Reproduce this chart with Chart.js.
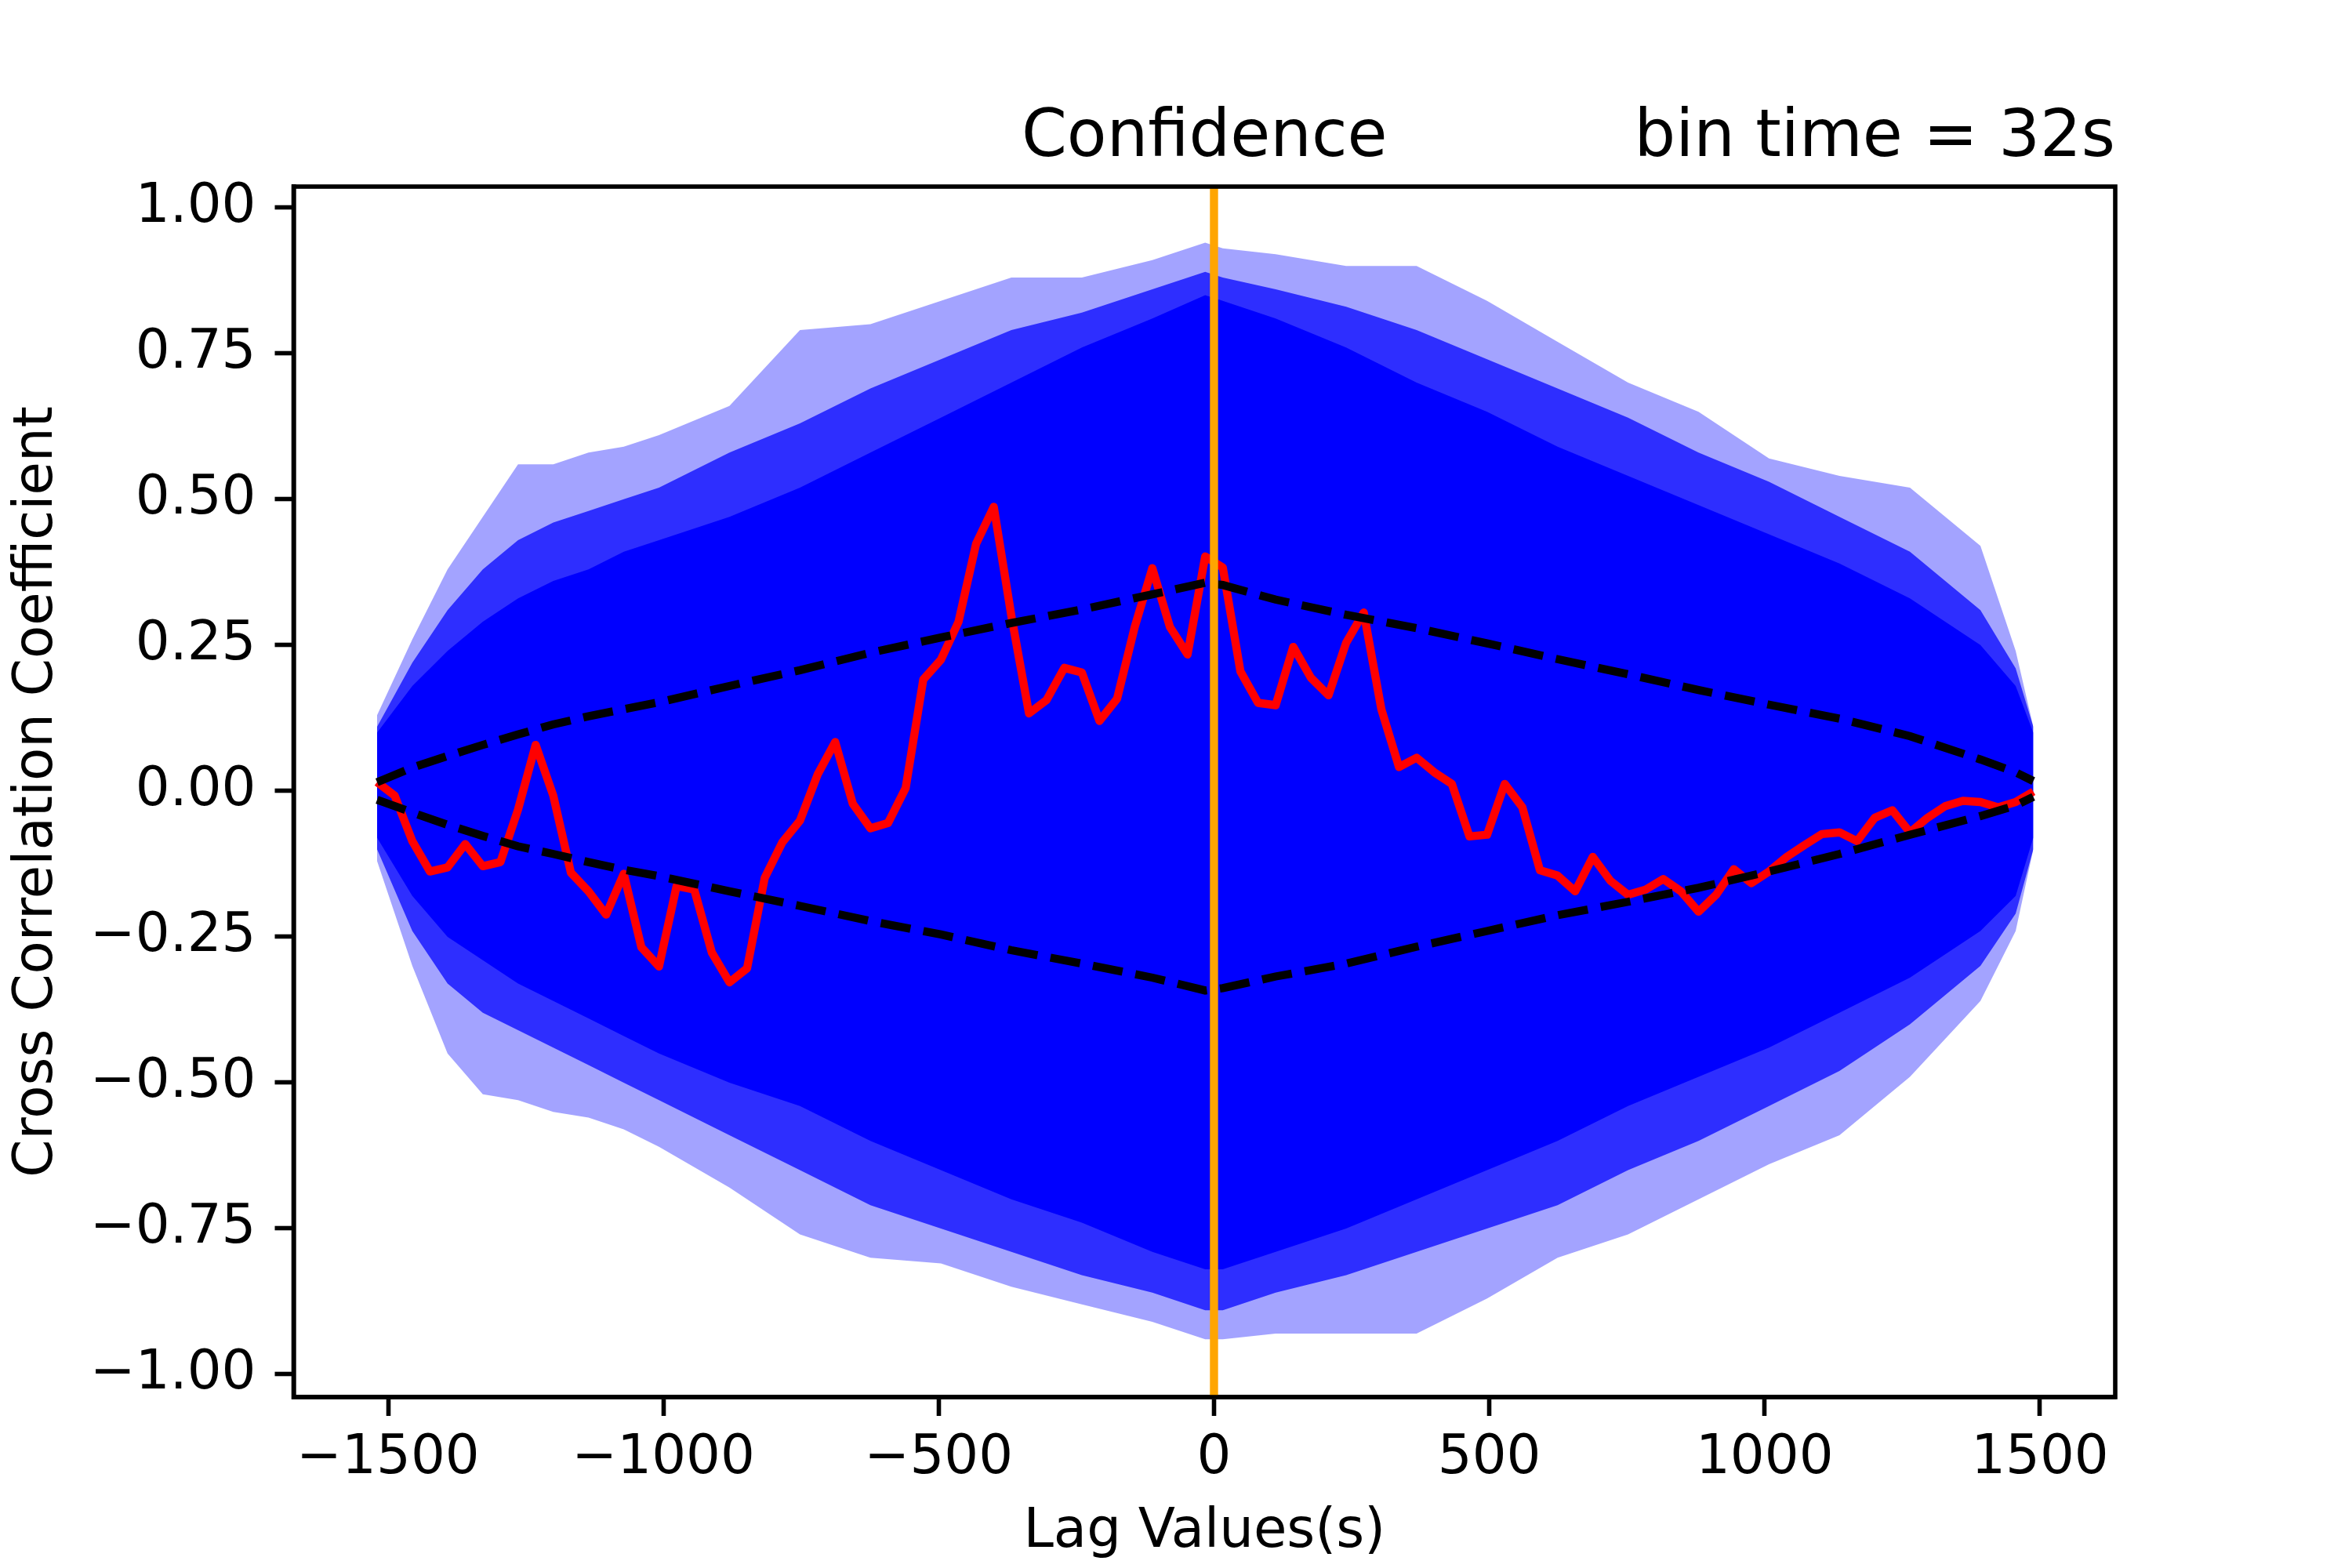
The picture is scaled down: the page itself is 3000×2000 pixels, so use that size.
<!DOCTYPE html>
<html>
<head>
<meta charset="utf-8">
<title>Confidence</title>
<script src="https://cdn.jsdelivr.net/npm/chart.js@4.4.1/dist/chart.umd.min.js"></script>
<style>
  body { margin: 0; background: #ffffff; }
  canvas { display: block; }
</style>
</head>
<body>
<canvas id="ccfChart" width="3000" height="2000"></canvas>
<script>
// lag grid of the observed cross correlation (s)
const lags = [-1520, -1488, -1456, -1424, -1392, -1360, -1328, -1296, -1264, -1232,
  -1200, -1168, -1136, -1104, -1072, -1040, -1008, -976, -944, -912,
  -880, -848, -816, -784, -752, -720, -688, -656, -624, -592,
  -560, -528, -496, -464, -432, -400, -368, -336, -304, -272,
  -240, -208, -176, -144, -112, -80, -48, -16, 16, 48,
  80, 112, 144, 176, 208, 240, 272, 304, 336, 368,
  400, 432, 464, 496, 528, 560, 592, 624, 656, 688,
  720, 752, 784, 816, 848, 880, 912, 944, 976, 1008,
  1040, 1072, 1104, 1136, 1168, 1200, 1232, 1264, 1296, 1328,
  1360, 1392, 1424, 1456, 1488];

// observed cross correlation coefficient (red line)
const ccf = [0.015, -0.008, -0.086, -0.138, -0.131, -0.091, -0.129, -0.122, -0.032, 0.079,
  -0.008, -0.140, -0.172, -0.212, -0.142, -0.268, -0.301, -0.163, -0.169, -0.277,
  -0.328, -0.304, -0.149, -0.088, -0.051, 0.028, 0.084, -0.022, -0.064, -0.055,
  0.005, 0.191, 0.225, 0.290, 0.424, 0.487, 0.300, 0.133, 0.156, 0.211,
  0.203, 0.120, 0.158, 0.281, 0.382, 0.281, 0.234, 0.402, 0.383, 0.205,
  0.151, 0.147, 0.247, 0.194, 0.164, 0.254, 0.306, 0.140, 0.041, 0.057,
  0.032, 0.012, -0.078, -0.075, 0.012, -0.028, -0.136, -0.145, -0.172, -0.113,
  -0.154, -0.178, -0.169, -0.151, -0.172, -0.207, -0.178, -0.134, -0.158, -0.138,
  -0.113, -0.093, -0.074, -0.071, -0.086, -0.046, -0.033, -0.071, -0.046, -0.026,
  -0.017, -0.019, -0.028, -0.019, -0.001];

// coarser lag grid for the confidence curves and the simulated envelope
const bandLags = [-1520, -1456, -1392, -1328, -1264, -1200, -1136, -1072, -1008, -880,
  -752, -624, -496, -368, -240, -112, -16, 16, 112, 240,
  368, 496, 624, 752, 880, 1008, 1136, 1264, 1392, 1456, 1488];

// confidence limits (black dashed)
const confUpper = [0.015, 0.040, 0.060, 0.079, 0.097, 0.114, 0.128, 0.140, 0.152, 0.180,
  0.207, 0.237, 0.263, 0.288, 0.311, 0.337, 0.357, 0.353, 0.328, 0.302,
  0.279, 0.253, 0.226, 0.200, 0.173, 0.148, 0.124, 0.094, 0.054, 0.032, 0.017];
const confLower = [-0.015, -0.037, -0.058, -0.077, -0.095, -0.108, -0.122, -0.135, -0.146, -0.172,
  -0.197, -0.223, -0.246, -0.273, -0.296, -0.320, -0.342, -0.338, -0.318, -0.296,
  -0.267, -0.240, -0.213, -0.190, -0.166, -0.138, -0.108, -0.075, -0.043, -0.025, -0.010];

// envelope of the simulated curves (blue): sparse outer lines, dense middle, solid core
const outerUpper = [0.13, 0.26, 0.38, 0.47, 0.56, 0.56, 0.58, 0.59, 0.61, 0.66,
  0.79, 0.80, 0.84, 0.88, 0.88, 0.91, 0.94, 0.93, 0.92, 0.90,
  0.90, 0.84, 0.77, 0.70, 0.65, 0.57, 0.54, 0.52, 0.42, 0.24, 0.11];
const outerLower = [-0.12, -0.30, -0.45, -0.52, -0.53, -0.55, -0.56, -0.58, -0.61, -0.68,
  -0.76, -0.80, -0.81, -0.85, -0.88, -0.91, -0.94, -0.94, -0.93, -0.93,
  -0.93, -0.87, -0.80, -0.76, -0.70, -0.64, -0.59, -0.49, -0.36, -0.24, -0.10];
const midUpper = [0.11, 0.22, 0.31, 0.38, 0.43, 0.46, 0.48, 0.50, 0.52, 0.58,
  0.63, 0.69, 0.74, 0.79, 0.82, 0.86, 0.89, 0.88, 0.86, 0.83,
  0.79, 0.74, 0.69, 0.64, 0.58, 0.53, 0.47, 0.41, 0.31, 0.21, 0.11];
const midLower = [-0.10, -0.24, -0.33, -0.38, -0.41, -0.44, -0.47, -0.50, -0.53, -0.59,
  -0.65, -0.71, -0.75, -0.79, -0.83, -0.86, -0.89, -0.89, -0.86, -0.83,
  -0.79, -0.75, -0.71, -0.65, -0.60, -0.54, -0.48, -0.40, -0.30, -0.21, -0.10];
const coreUpper = [0.10, 0.18, 0.24, 0.29, 0.33, 0.36, 0.38, 0.41, 0.43, 0.47,
  0.52, 0.58, 0.64, 0.70, 0.76, 0.81, 0.85, 0.84, 0.81, 0.76,
  0.70, 0.65, 0.59, 0.54, 0.49, 0.44, 0.39, 0.33, 0.25, 0.18, 0.10];
const coreLower = [-0.08, -0.18, -0.25, -0.29, -0.33, -0.36, -0.39, -0.42, -0.45, -0.50,
  -0.54, -0.60, -0.65, -0.70, -0.74, -0.79, -0.82, -0.82, -0.79, -0.75,
  -0.70, -0.65, -0.60, -0.54, -0.49, -0.44, -0.38, -0.32, -0.24, -0.18, -0.08];

// axes
const xTicks = [-1500, -1000, -500, 0, 500, 1000, 1500];
const yTicks = [-1.0, -0.75, -0.5, -0.25, 0.0, 0.25, 0.5, 0.75, 1.0];
const xLimits = [-1671.6, 1636.8];
const yLimits = [-1.039, 1.036];
const zeroLag = 0;

const titleText = "Confidence";
const binText = "bin time = 32s";
const xLabel = "Lag Values(s)";
const yLabel = "Cross Correlation Coefficient";

const FONT = "'DejaVu Sans', 'Liberation Sans', sans-serif";
const BLUE = "#0000ff";

// helper to zip x and y arrays into points
function toPoints(xs, ys) {
  return xs.map((x, i) => ({ x: x, y: ys[i] }));
}

function band(values, order, fillTarget, color) {
  return {
    data: toPoints(bandLags, values),
    borderWidth: 0,
    pointRadius: 0,
    fill: fillTarget === null ? false : { target: fillTarget },
    backgroundColor: color,
    order: order,
  };
}

// draws the top/right spines and the two titles
const framePlugin = {
  id: "frame",
  afterDraw(chart) {
    const { ctx, chartArea } = chart;
    ctx.save();
    ctx.strokeStyle = "#000000";
    ctx.lineWidth = 5.6;
    ctx.strokeRect(chartArea.left, chartArea.top, chartArea.right - chartArea.left, chartArea.bottom - chartArea.top);

    ctx.fillStyle = "#000000";
    ctx.font = "83px " + FONT;
    ctx.textBaseline = "alphabetic";
    ctx.textAlign = "center";
    ctx.fillText(titleText, (chartArea.left + chartArea.right) / 2, 199);
    ctx.textAlign = "right";
    ctx.fillText(binText, chartArea.right, 199);
    ctx.restore();
  },
};

const tickFont = { family: FONT, size: 69 };
const minus = (v) => String(v).replace("-", "\u2212");

new Chart(document.getElementById("ccfChart"), {
  type: "line",
  data: {
    datasets: [
      {
        // vertical line at zero lag
        data: [{ x: zeroLag, y: yLimits[0] }, { x: zeroLag, y: yLimits[1] }],
        borderColor: "#ffa500",
        borderWidth: 10.4,
        pointRadius: 0,
        order: 0,
      },
      {
        data: toPoints(bandLags, confUpper),
        borderColor: "#000000",
        borderWidth: 10.4,
        borderDash: [38.5, 16.7],
        pointRadius: 0,
        order: 1,
      },
      {
        data: toPoints(bandLags, confLower),
        borderColor: "#000000",
        borderWidth: 10.4,
        borderDash: [38.5, 16.7],
        pointRadius: 0,
        order: 1,
      },
      {
        data: toPoints(lags, ccf),
        borderColor: "#ff0000",
        borderWidth: 10.4,
        borderJoinStyle: "round",
        pointRadius: 0,
        order: 2,
      },
      band(coreUpper, 3, 5, BLUE),
      band(coreLower, 3, null, BLUE),
      band(midUpper, 4, 7, "rgba(0, 0, 255, 0.72)"),
      band(midLower, 4, null, "rgba(0, 0, 255, 0.72)"),
      band(outerUpper, 5, 9, "rgba(0, 0, 255, 0.36)"),
      band(outerLower, 5, null, "rgba(0, 0, 255, 0.36)"),
    ],
  },
  options: {
    responsive: false,
    animation: false,
    devicePixelRatio: 1,
    layout: { padding: { top: 238, right: 302, left: 0, bottom: 0 } },
    plugins: {
      legend: { display: false },
      tooltip: { enabled: false },
    },
    elements: { line: { tension: 0 } },
    scales: {
      x: {
        type: "linear",
        min: xLimits[0],
        max: xLimits[1],
        afterBuildTicks: (axis) => {
          axis.ticks = xTicks.map((v) => ({ value: v }));
        },
        afterFit: (axis) => {
          axis.height = 218;
        },
        ticks: {
          font: tickFont,
          color: "#000000",
          padding: 14,
          maxRotation: 0,
          autoSkip: false,
          callback: (v) => minus(v),
        },
        grid: {
          drawOnChartArea: false,
          drawTicks: true,
          tickLength: 24,
          tickWidth: 5.6,
          tickColor: "#000000",
        },
        border: { display: true, color: "#000000", width: 5.6 },
        title: {
          display: true,
          text: xLabel,
          color: "#000000",
          font: tickFont,
          padding: { top: 0, bottom: 4 },
        },
      },
      y: {
        type: "linear",
        min: yLimits[0],
        max: yLimits[1],
        afterBuildTicks: (axis) => {
          axis.ticks = yTicks.map((v) => ({ value: v }));
        },
        afterFit: (axis) => {
          axis.width = 374.5;
        },
        ticks: {
          font: tickFont,
          color: "#000000",
          padding: 24,
          autoSkip: false,
          callback: (v) => minus(v.toFixed(2)),
        },
        grid: {
          drawOnChartArea: false,
          drawTicks: true,
          tickLength: 24,
          tickWidth: 5.6,
          tickColor: "#000000",
        },
        border: { display: true, color: "#000000", width: 5.6 },
        title: {
          display: true,
          text: yLabel,
          color: "#000000",
          font: tickFont,
          padding: { top: 7, bottom: 0 },
        },
      },
    },
  },
  plugins: [framePlugin],
});
</script>
</body>
</html>
